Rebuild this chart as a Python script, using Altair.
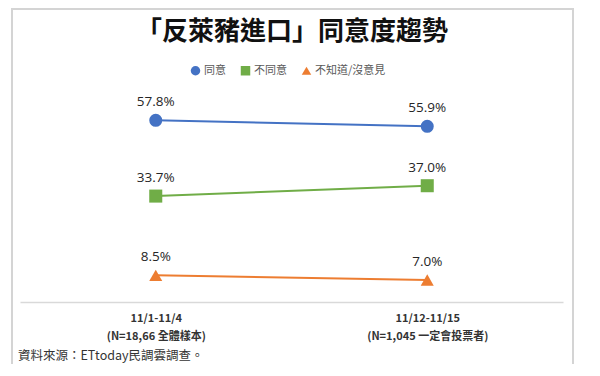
import altair as alt
import pandas as pd

title_text = ["「反萊豬進口」同意度趨勢"]
source_text = ["資料來源：ETtoday民調雲調查。"]
periods = ["11/1-11/4|(N=18,66 全體樣本)", "11/12-11/15|(N=1,045 一定會投票者)"]
series = ["同意", "不同意", "不知道/沒意見"]
agree = [57.8, 55.9]
disagree = [33.7, 37.0]
unknown = [8.5, 7.0]
colors = ["#4472C4", "#70AD47", "#ED7D31"]
shapes = ["circle", "square", "triangle-up"]

rows = []
for s, vals in zip(series, [agree, disagree, unknown]):
    for p, v in zip(periods, vals):
        rows.append({"period": p, "series": s, "value": v})
df = pd.DataFrame(rows)

FONT = "Noto Sans CJK TC"
W, H = 543, 220

color_scale = alt.Scale(domain=series, range=colors)
shape_scale = alt.Scale(domain=series, range=shapes)

base = alt.Chart(df).encode(
    x=alt.X("period:N", sort=periods, title=None,
            scale=alt.Scale(paddingInner=0, paddingOuter=0),
            axis=alt.Axis(labelExpr="split(datum.label, '|')", labelAngle=0,
                          labelFontSize=11, labelFontWeight="bold", labelColor="#333333",
                          labelFont=FONT, labelLineHeight=18, labelPadding=10,
                          ticks=False, domainColor="#d9d9d9", domainWidth=1.5, grid=False)),
    y=alt.Y("value:Q", scale=alt.Scale(domain=[0, 70]), axis=None),
)

legend = alt.Legend(title=None, orient="none", legendX=170, legendY=-17, direction="horizontal",
                    labelFont=FONT, labelFontSize=11, labelColor="#595959",
                    symbolSize=90, symbolStrokeWidth=0, columnPadding=14, labelOffset=3)

lines = base.mark_line(strokeWidth=2).encode(
    color=alt.Color("series:N", scale=color_scale, legend=legend),
    detail="series:N",
)
points = base.mark_point(filled=True, opacity=1, size=170).encode(
    color=alt.Color("series:N", scale=color_scale, legend=legend),
    shape=alt.Shape("series:N", scale=shape_scale, legend=legend),
)
labels = base.transform_calculate(
    lbl="format(datum.value, '.1f') + '%'"
).mark_text(dy=-18, fontSize=13.5, color="#262626", font="Open Sans").encode(text="lbl:N")

title = alt.Chart(pd.DataFrame({"t": title_text})).mark_text(
    fontSize=26, fontWeight="bold", font=FONT, color="#111111", baseline="middle", align="center"
).encode(text="t:N", x=alt.value(272), y=alt.value(-50))

source = alt.Chart(pd.DataFrame({"t": source_text})).mark_text(
    fontSize=12.5, font=FONT, color="#333333", baseline="middle", align="left"
).encode(text="t:N", x=alt.value(-2), y=alt.value(274))

frame = alt.Chart(pd.DataFrame({"k": [0]})).mark_rect(
    fill="transparent", stroke="#d4d4d4", strokeWidth=2
).encode(x=alt.value(-8), x2=alt.value(553), y=alt.value(-73), y2=alt.value(284))

chart = alt.layer(frame, lines, points, labels, title, source).properties(
    width=W, height=H,
    autosize=alt.AutoSizeParams(type="none"),
    padding={"left": 12, "top": 74, "right": 20, "bottom": 62},
).configure(background="white").configure_view(stroke=None)

chart.save("out.html", embed_options={"renderer": "svg", "actions": False})
